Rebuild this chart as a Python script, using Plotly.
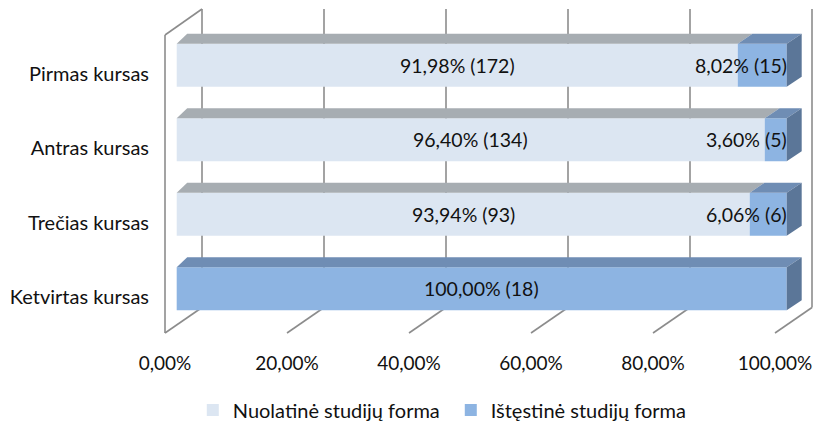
import plotly.graph_objects as go

# ---- data (top to bottom as read on the chart) ----
categories = ["Pirmas kursas", "Antras kursas", "Trečias kursas", "Ketvirtas kursas"]
nuolatine_pct = [91.98, 96.40, 93.94, 0.00]
nuolatine_cnt = [172, 134, 93, 0]
istestine_pct = [8.02, 3.60, 6.06, 100.00]
istestine_cnt = [15, 5, 6, 18]
series_names = ["Nuolatinė studijų forma", "Ištęstinė studijų forma"]
x_ticks = [0, 20, 40, 60, 80, 100]

# ---- styling ----
FONT = "Lato"
TXT = "#111111"
WALL = "#8c8c8c"
front_col = ["#dce6f2", "#8db4e2"]
top_col = ["#a7adb2", "#6f8db4"]
side_col = ["#a0a6ab", "#5b7698"]

# pseudo-3D geometry, expressed in axis units
PX_X = 6.1        # pixels per percent point
PX_Y = 74.5       # pixels per category step
BAR_DX = 11.7 / PX_X      # bar front plane offset from wall front plane
BAR_DY = 8.2 / PX_Y
BAR_H = 43.0 / PX_Y
DEPTH_Y = 10.0 / PX_Y


def depth_x(v):
    # slight perspective: bars look deeper towards the right
    return (10.5 + 4.5 * v / 100.0) / PX_X


WALL_DX = 37.0 / PX_X
FLOOR_Y = -36.0 / PX_Y
BACK_FLOOR_Y = -10.5 / PX_Y
BACK_TOP_Y = 288.0 / PX_Y
FRONT_TOP_Y = 262.0 / PX_Y

rows = list(reversed(range(len(categories))))  # y index, top category highest
fig = go.Figure()

# walls and gridlines (drawn below the bars)
shapes = []
line = dict(color=WALL, width=1.6)
for v in x_ticks:
    shapes.append(dict(type="line", xref="x", yref="y", layer="below",
                       x0=v + WALL_DX, x1=v + WALL_DX, y0=BACK_FLOOR_Y, y1=BACK_TOP_Y, line=line))
    shapes.append(dict(type="line", xref="x", yref="y", layer="below",
                       x0=v, x1=v + WALL_DX, y0=FLOOR_Y, y1=BACK_FLOOR_Y, line=line))
shapes.append(dict(type="line", xref="x", yref="y", layer="below",
                   x0=0, x1=0, y0=FLOOR_Y, y1=FRONT_TOP_Y, line=line))
shapes.append(dict(type="line", xref="x", yref="y", layer="below",
                   x0=0, x1=WALL_DX, y0=FRONT_TOP_Y, y1=BACK_TOP_Y, line=line))

series_pct = [nuolatine_pct, istestine_pct]
series_cnt = [nuolatine_cnt, istestine_cnt]

# front faces as stacked horizontal bars
for s in range(2):
    bases = []
    for i in range(len(categories)):
        b = BAR_DX + (0 if s == 0 else nuolatine_pct[i])
        bases.append(b)
    fig.add_trace(go.Bar(
        orientation="h",
        y=[r + BAR_DY for r in rows],
        x=series_pct[s],
        base=bases,
        width=BAR_H,
        marker=dict(color=front_col[s], line=dict(width=0)),
        name=series_names[s],
        hoverinfo="skip",
    ))

# top faces and right side face for depth
for i, r in enumerate(rows):
    yc = r + BAR_DY
    ytop = yc + BAR_H / 2
    ybot = yc - BAR_H / 2
    start = 0.0
    last = None
    for s in range(2):
        v = series_pct[s][i]
        if v <= 0:
            continue
        a, b = start, start + v
        xs = [BAR_DX + a, BAR_DX + b, BAR_DX + b + depth_x(b), BAR_DX + a + depth_x(a), BAR_DX + a]
        ys = [ytop, ytop, ytop + DEPTH_Y, ytop + DEPTH_Y, ytop]
        fig.add_trace(go.Scatter(x=xs, y=ys, mode="lines", fill="toself",
                                 fillcolor=top_col[s], line=dict(width=0),
                                 showlegend=False, hoverinfo="skip"))
        start = b
        last = s
    if last is not None:
        xe = BAR_DX + start
        d = depth_x(start)
        xs = [xe, xe + d, xe + d, xe, xe]
        ys = [ytop, ytop + DEPTH_Y, ybot + DEPTH_Y, ybot, ytop]
        fig.add_trace(go.Scatter(x=xs, y=ys, mode="lines", fill="toself",
                                 fillcolor=side_col[last], line=dict(width=0),
                                 showlegend=False, hoverinfo="skip"))


def fmt(p, n):
    return f"{p:.2f}".replace(".", ",") + f"% ({n})"


# data labels
annotations = []
for i, r in enumerate(rows):
    yc = r + BAR_DY
    start = 0.0
    for s in range(2):
        v = series_pct[s][i]
        if v <= 0:
            continue
        if v >= 50:
            ax, anchor = BAR_DX + start + v / 2, "center"
        else:
            ax, anchor = BAR_DX + start + v + 0.3, "right"
        annotations.append(dict(x=ax, y=yc, xref="x", yref="y", text=fmt(v, series_cnt[s][i]),
                                showarrow=False, xanchor=anchor, yanchor="middle",
                                font=dict(family=FONT, size=19.5, color=TXT)))
        start += v

fig.update_layout(
    width=814, height=421,
    margin=dict(l=150, r=0, t=0, b=81, autoexpand=False),
    paper_bgcolor="white", plot_bgcolor="white",
    barmode="overlay",
    shapes=shapes,
    annotations=annotations,
    font=dict(family=FONT, size=20, color=TXT),
    xaxis=dict(range=[-15 / PX_X, 649 / PX_X], showgrid=False, zeroline=False, showline=False,
               tickvals=x_ticks, ticktext=[f"{v:.2f}".replace(".", ",") + "%" for v in x_ticks],
               ticks="", ticklabelstandoff=10, tickfont=dict(family=FONT, size=19, color=TXT),
               fixedrange=True, automargin=False),
    yaxis=dict(range=[-43 / PX_Y, 297 / PX_Y], showgrid=False, zeroline=False, showline=False,
               tickvals=rows, ticktext=categories, ticks="",
               tickfont=dict(family=FONT, size=20, color=TXT), fixedrange=True, automargin=False),
    legend=dict(orientation="h", x=0.453, xanchor="center", y=-0.206, yanchor="middle",
                font=dict(family=FONT, size=20, color=TXT), itemwidth=30,
                entrywidth=213, entrywidthmode="pixels",
                traceorder="normal"),
    showlegend=True,
)

fig.write_html("out.html")
